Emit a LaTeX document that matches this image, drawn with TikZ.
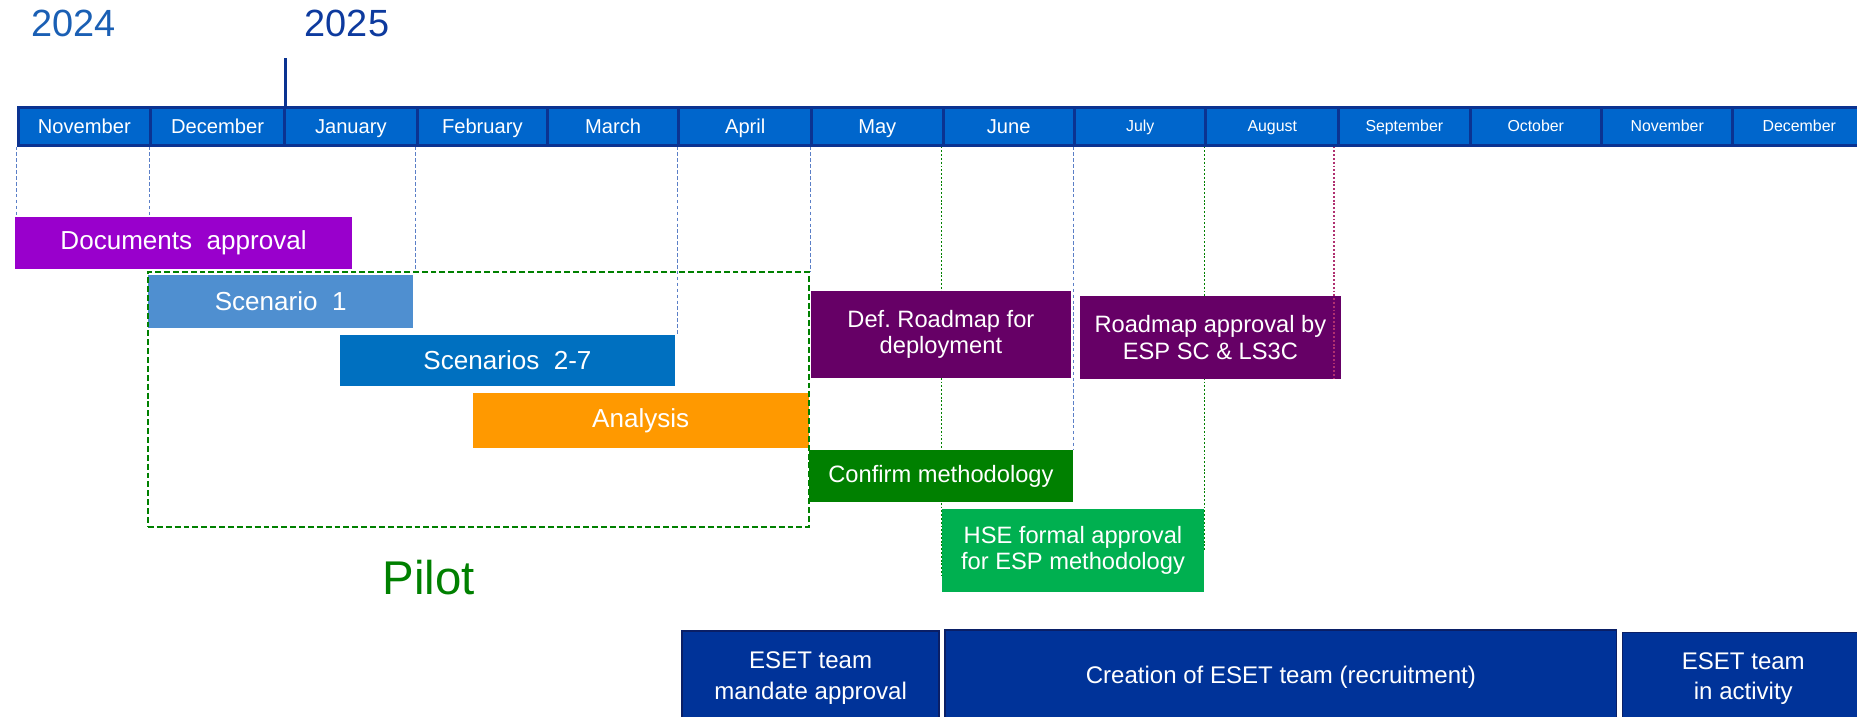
\documentclass[tikz,border=0pt]{standalone}
\usepackage{fontspec}
\setmainfont{Liberation Sans}
\usetikzlibrary{positioning, calc, backgrounds}
\frenchspacing
\definecolor{navyBlue}{HTML}{0B3391}
\definecolor{monthBlue}{HTML}{0066CC}
\definecolor{yearLight}{HTML}{1A5FB4}
\definecolor{yearDark}{HTML}{0D3A9E}
\definecolor{docsPurple}{HTML}{9900CC}
\definecolor{scenLight}{HTML}{4F8FD0}
\definecolor{scenBlue}{HTML}{0070C0}
\definecolor{analysisOrange}{HTML}{FF9900}
\definecolor{roadPurple}{HTML}{660066}
\definecolor{confirmGreen}{HTML}{008000}
\definecolor{hseGreen}{HTML}{00B050}
\definecolor{teamBlue}{HTML}{003399}
\definecolor{teamEdge}{HTML}{0A1F66}
\definecolor{guideBlue}{HTML}{5B7FC7}
\definecolor{dotGreen}{HTML}{008000}
\definecolor{dotPink}{HTML}{B03070}
\tikzset{
    monthCell/.style={rectangle, draw=navyBlue, line width=2.5pt, fill=monthBlue, text=white, inner sep=0pt, minimum height=32pt, anchor=west},
    monthBig/.style={font=\fontsize{17}{20}\selectfont, text height=12.2pt, text depth=0pt},
    monthSmall/.style={font=\fontsize{13.4}{16}\selectfont, text height=9.6pt, text depth=0pt},
    yearText/.style={font=\fontsize{32}{36}\selectfont},
    yearTick/.style={draw=navyBlue, line width=2.5pt},
    taskBox/.style={rectangle, text=white, inner sep=0pt, align=center},
    bigFont/.style={font=\fontsize{22}{26}\selectfont},
    midFont/.style={font=\fontsize{20}{22}\selectfont},
    teamBox/.style={fill=teamBlue, draw=teamEdge, line width=1.5pt, font=\fontsize{20.3}{26}\selectfont},
    guideLine/.style={draw=guideBlue, line width=0.7pt, dash pattern=on 3pt off 2pt},
    greenDots/.style={draw=dotGreen, line width=1.6pt, dash pattern=on 1.6pt off 1.6pt},
    pinkDots/.style={draw=dotPink, line width=1.6pt, dash pattern=on 1.6pt off 1.6pt},
    pilotFrame/.style={rectangle, draw=confirmGreen, line width=1.6pt, dash pattern=on 5pt off 2.5pt, inner sep=0pt},
}
% [options]{name}{x1}{y1}{x2}{y2}{text}
\newcommand{\drawTask}[7][]{
    \node[taskBox, #1, minimum width={(#5-#3)*1pt}, minimum height={(#6-#4)*1pt}] (#2) at ({(#3+#5)/2}, {(#4+#6)/2}) {#7};
}
\begin{document}
\begin{tikzpicture}[x=1pt, y=-1pt]
    \useasboundingbox (0,0) rectangle (1568,605);

    \node[yearText, text=yearLight] (yearOld) at (62, 20) {2024};
    \node[yearText, text=yearDark] (yearNew) at (293, 20) {2025};

    % month bar
    \foreach \mon/\xl/\xr [count=\i from 0] in {November/14/126, December/126/239, January/239/351, February/351/461, March/461/572, April/572/684, May/684/795, June/795/906}
        \node[monthCell, monthBig, minimum width={(\xr-\xl)*1pt}] (m\i) at (\xl, 106.5) {\mon};
    \foreach \mon/\xl/\xr [count=\i from 8] in {July/906/1017, August/1017/1129, September/1129/1240, October/1240/1351, November/1351/1462, December/1462/1574}
        \node[monthCell, monthSmall, minimum width={(\xr-\xl)*1pt}] (m\i) at (\xl, 106.5) {\mon};
    \draw[yearTick] ([xshift=2pt]m2.north west) -- ++(0,-40);

    % tasks
    \drawTask[fill=docsPurple, bigFont]{docs}{13}{183}{297}{227}{Documents\ \ approval}
    \drawTask[fill=scenLight, bigFont]{scenOne}{125}{232}{349}{277}{Scenario\ \ 1}
    \drawTask[fill=scenBlue, bigFont]{scenMore}{287}{283}{570}{326}{Scenarios\ \ 2-7}
    \drawTask[fill=analysisOrange, bigFont]{analysis}{399}{332}{683}{378}{Analysis}
    \drawTask[fill=roadPurple, midFont]{defRoad}{685}{246}{904}{319}{Def. Roadmap for\\deployment}
    \drawTask[fill=roadPurple, midFont]{roadOK}{912}{250}{1132}{320}{Roadmap approval by\\ESP SC \& LS3C}
    \drawTask[fill=confirmGreen, midFont]{confirm}{683}{380}{906}{424}{Confirm methodology}
    \drawTask[fill=hseGreen, midFont]{hse}{795}{430}{1017}{500}{HSE formal approval\\for ESP methodology}

    \node[pilotFrame, minimum width=558pt, minimum height=215pt] (pilotBox) at (404, 337.5) {};
    \node[font=\fontsize{40}{44}\selectfont, text=confirmGreen] (pilot) at (362, 488) {Pilot};

    % team
    \drawTask[teamBox]{mandate}{576}{533}{793}{612}{ESET team\\mandate approval}
    \drawTask[teamBox]{creation}{798}{532}{1365}{612}{Creation of ESET team (recruitment)}
    \drawTask[teamBox]{active}{1370}{534}{1574}{612}{ESET team\\in activity}

    % guides
    \begin{scope}[on background layer]
        \draw[guideLine] (m0.south west) -- (m0.south west |- docs.north);
        \draw[guideLine] (m1.south west) -- (m1.south west |- pilotBox.north);
        \draw[guideLine] (m3.south west) -- (m3.south west |- pilotBox.north);
        \draw[guideLine] (m5.south west) -- (m5.south west |- scenMore.north);
        \draw[guideLine] (m6.south west) -- (m6.south west |- pilotBox.north);
        \draw[greenDots] (m7.south west) -- ([yshift=14pt]m7.south west |- hse.south);
        \draw[guideLine] (m8.south west) -- (m8.south west |- confirm.north);
        \draw[greenDots] (m9.south west) -- (m9.south west |- hse.east);
    \end{scope}
    \draw[pinkDots] ([xshift=-3pt]m10.south west) -- ([xshift=-3pt]m10.south west |- roadOK.south);

\end{tikzpicture}
\end{document}
